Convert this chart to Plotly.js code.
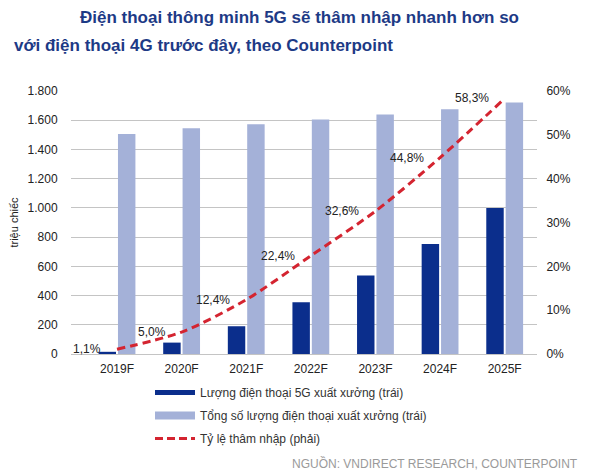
<!DOCTYPE html>
<html>
<head>
<meta charset="utf-8">
<script src="https://cdn.plot.ly/plotly-3.0.1.min.js"></script>
<style>html,body{margin:0;padding:0;background:#fff;}#chart{width:600px;height:476px;}</style>
</head>
<body>
<div id="chart"></div>
<script>
const categories = ["2019F","2020F","2021F","2022F","2023F","2024F","2025F"];
const shipments5G = [15, 78, 190, 355, 538, 752, 1000];
const totalShipments = [1505, 1545, 1572, 1605, 1640, 1675, 1722];
const penetrationPct = [1.1, 5.0, 12.4, 22.4, 32.6, 44.8, 58.3];
const seriesNames = [
  "Lượng điện thoại 5G xuất xưởng (trái)",
  "Tổng số lượng điện thoại xuất xưởng (trái)",
  "Tỷ lệ thâm nhập (phải)"
];
const titleLines = [
  "Điện thoại thông minh 5G sẽ thâm nhập nhanh hơn so",
  "với điện thoại 4G trước đây, theo Counterpoint"
];
const yTitle = "triệu chiếc";
const sourceText = "NGUỒN: VNDIRECT RESEARCH, COUNTERPOINT";

const DARK = "#0b2e8c", LIGHT = "#a4b1d8", RED = "#d42430";
const W = 600, H = 476, ML = 71, MR = 63, MT = 91, MB = 122;
const PW = W - ML - MR, PH = H - MT - MB;
const px = v => (v - ML) / PW;
const py = v => (H - MB - v) / PH;

const barTotal = {type:"bar", x:categories, y:totalShipments, name:seriesNames[1], marker:{color:LIGHT}, showlegend:false, hoverinfo:"skip"};
const bar5G = {type:"bar", x:categories, y:shipments5G, name:seriesNames[0], marker:{color:DARK}, showlegend:false, hoverinfo:"skip"};
const penLine = {type:"scatter", mode:"lines", x:categories, y:penetrationPct, yaxis:"y2", name:seriesNames[2], showlegend:false,
   line:{color:RED, width:3, dash:"8px,5px", shape:"spline", smoothing:0.8}, hoverinfo:"skip"};
const legendItems = [
  {type:"scatter", mode:"lines", x:[categories[0]], y:[null], name:seriesNames[0], line:{color:DARK, width:5}, legendgroup:"a"},
  {type:"scatter", mode:"lines", x:[categories[0]], y:[null], name:seriesNames[1], line:{color:LIGHT, width:8}, legendgroup:"b"},
  {type:"scatter", mode:"lines", x:[categories[0]], y:[null], yaxis:"y2", name:seriesNames[2], line:{color:RED, width:3, dash:"8px,4px"}, legendgroup:"c"}
];
const data = [bar5G, barTotal, penLine].concat(legendItems);

const annotations = penetrationPct.map((v, i) => ({
  x: categories[i], y: v, xref:"x", yref:"y2",
  text: v.toFixed(1).replace(".", ",") + "%",
  showarrow:false, xanchor:"right", yanchor:"middle", xshift:-14,
  font:{family:"Liberation Sans, Arial, sans-serif", size:12, color:"#222"}
}));
annotations.push(
  {xref:"paper", yref:"paper", x:px(78), y:py(18), xanchor:"left", yanchor:"middle", showarrow:false,
   text:"<b>"+titleLines[0]+"</b>", font:{family:"Liberation Sans, Arial, sans-serif", size:17, color:"#1d3a86"}},
  {xref:"paper", yref:"paper", x:px(12), y:py(45), xanchor:"left", yanchor:"middle", showarrow:false,
   text:"<b>"+titleLines[1]+"</b>", font:{family:"Liberation Sans, Arial, sans-serif", size:17, color:"#1d3a86"}},
  {xref:"paper", yref:"paper", x:px(580), y:py(463), xanchor:"right", yanchor:"middle", showarrow:false,
   text:sourceText, font:{family:"Liberation Sans, Arial, sans-serif", size:12, color:"#9a9a9a"}}
);

const layout = {
  width:W, height:H,
  margin:{l:ML, r:MR, t:MT, b:MB, pad:0},
  paper_bgcolor:"#fff", plot_bgcolor:"#fff",
  separators:",.",
  font:{family:"Liberation Sans, Arial, sans-serif", size:12, color:"#333"},
  barmode:"group", bargap:0.4, bargroupgap:0.1,
  showlegend:true,
  legend:{orientation:"v", x:px(150), xanchor:"left", y:py(378), yanchor:"top",
          traceorder:"grouped", tracegroupgap:4, itemwidth:40,
          font:{size:12, color:"#333"}, bgcolor:"rgba(0,0,0,0)"},
  xaxis:{type:"category", showgrid:false, zeroline:false, showline:false,
         ticks:"outside", ticklen:4, tickcolor:"rgba(0,0,0,0)", tickfont:{size:12, color:"#222"}},
  yaxis:{range:[0,1800], dtick:200, tickformat:",d", showgrid:true, gridcolor:"#c4c4c4", gridwidth:1,
         zeroline:true, zerolinecolor:"#c4c4c4", zerolinewidth:1, showline:false,
         ticks:"outside", ticklen:10, tickcolor:"rgba(0,0,0,0)", tickfont:{size:12, color:"#222"},
         title:{text:yTitle, standoff:6, font:{size:11, color:"#222"}}},
  yaxis2:{range:[0,60], dtick:10, ticksuffix:"%", overlaying:"y", side:"right", showgrid:false, zeroline:false,
          showline:false, ticks:"outside", ticklen:6, tickcolor:"rgba(0,0,0,0)", tickfont:{size:12, color:"#222"}},
  annotations:annotations
};

Plotly.newPlot("chart", data, layout, {staticPlot:true, displayModeBar:false});
</script>
</body>
</html>
